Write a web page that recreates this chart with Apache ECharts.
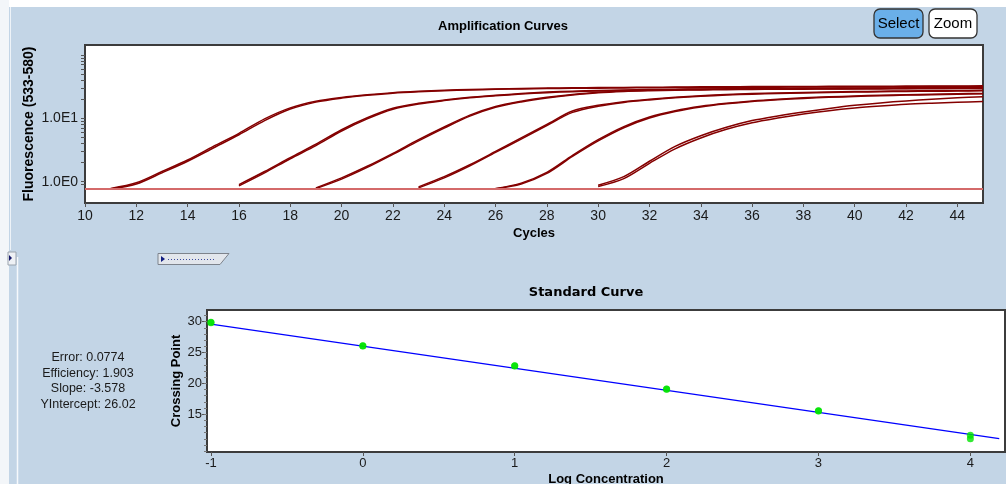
<!DOCTYPE html>
<html>
<head>
<meta charset="utf-8">
<title>Amplification Curves</title>
<script src="https://cdn.jsdelivr.net/npm/echarts@6.0.0/dist/echarts.min.js"></script>
<style>
  html, body { margin: 0; padding: 0; background: #c3d5e6; }
  #chart { width: 1006px; height: 484px; }
</style>
</head>
<body>
<div id="chart"></div>
<script>
// ---- amplification curves (fluorescence per cycle, 2 replicates per dilution) ----
const cycleTicks = [10, 12, 14, 16, 18, 20, 22, 24, 26, 28, 30, 32, 34, 36, 38, 40, 42, 44];
// first cycle of each curve, the values below run from there to cycle 45
const curveStart = [11, 11, 16, 16, 19, 19, 23, 23, 26, 26, 30, 30];
const g1a = [0.78, 0.96, 1.45, 2.2, 3.6, 5.8, 9.8, 14.6, 18.6, 21.3, 23.5, 25.4, 26.7, 27.7, 28.5, 29.1, 29.6, 30.0, 30.3, 30.5, 30.7, 30.9, 31.1, 31.3, 31.4, 31.6, 31.7, 31.8, 31.9, 32.0, 32.1, 32.2, 32.3, 32.4, 32.5];
const g1b = [0.77, 0.92, 1.38, 2.1, 3.4, 5.5, 9.2, 14.0, 18.0, 20.8, 23.0, 24.9, 26.2, 27.2, 28.0, 28.6, 29.1, 29.4, 29.7, 29.9, 30.1, 30.3, 30.5, 30.6, 30.8, 30.9, 31.0, 31.1, 31.2, 31.3, 31.4, 31.5, 31.6, 31.7, 31.8];
const g2a = [0.9, 1.45, 2.4, 3.9, 6.6, 10.2, 14.4, 17.2, 19.4, 21.4, 23.0, 24.6, 25.9, 26.8, 27.5, 28.0, 28.4, 28.7, 29.0, 29.2, 29.4, 29.6, 29.8, 29.9, 30.0, 30.1, 30.2, 30.3, 30.4, 30.5];
const g2b = [0.86, 1.38, 2.3, 3.7, 6.3, 9.8, 13.9, 16.8, 19.0, 21.0, 22.6, 24.1, 25.4, 26.3, 27.0, 27.5, 27.9, 28.2, 28.5, 28.7, 28.9, 29.1, 29.2, 29.3, 29.4, 29.5, 29.6, 29.7, 29.8, 29.9];
const g3a = [0.8, 1.15, 1.75, 2.8, 4.6, 7.3, 11.2, 15.4, 18.6, 21.4, 23.8, 25.8, 27.0, 27.7, 28.2, 28.5, 28.8, 29.0, 29.2, 29.4, 29.5, 29.6, 29.7, 29.8, 29.9, 30.0, 30.1];
const g3b = [0.78, 1.1, 1.68, 2.7, 4.4, 7.0, 10.8, 14.9, 18.1, 20.9, 23.3, 25.3, 26.5, 27.2, 27.7, 28.0, 28.3, 28.5, 28.7, 28.8, 28.9, 29.0, 29.1, 29.2, 29.3, 29.4, 29.5];
const g4a = [0.83, 1.2, 1.85, 3.0, 4.9, 8.0, 13.0, 16.0, 18.3, 20.0, 21.5, 22.7, 23.7, 24.5, 25.1, 25.6, 26.0, 26.4, 26.7, 27.0, 27.2, 27.4, 27.6];
const g4b = [0.8, 1.15, 1.78, 2.9, 4.7, 7.7, 12.4, 15.5, 17.8, 19.5, 21.0, 22.2, 23.2, 24.0, 24.6, 25.1, 25.5, 25.9, 26.2, 26.5, 26.7, 26.9, 27.1];
const g5a = [0.78, 0.95, 1.4, 2.6, 4.6, 7.4, 10.5, 13.2, 15.5, 17.3, 18.8, 20.0, 21.0, 21.8, 22.5, 23.1, 23.6, 24.0, 24.4, 24.7];
const g5b = [0.77, 0.92, 1.35, 2.5, 4.4, 7.1, 10.1, 12.8, 15.1, 16.9, 18.4, 19.6, 20.6, 21.4, 22.1, 22.7, 23.2, 23.6, 24.0, 24.3];
const g6a = [0.88, 1.2, 2.1, 3.6, 5.3, 7.2, 9.2, 10.9, 12.6, 14.3, 16.0, 17.5, 18.8, 20.0, 21.0, 21.9];
const g6b = [0.84, 1.12, 1.95, 3.3, 4.9, 6.7, 8.5, 10.1, 11.7, 13.2, 14.5, 15.6, 16.6, 17.3, 17.9, 18.4];
const baseline = 0.77;
const fluoTicks = [0.9, 1, 2, 3, 4, 5, 6, 7, 8, 9, 10, 20, 30, 40, 50, 60, 70, 80, 90, 100];
const fluoLabels = [1, 10];

// ---- standard curve ----
const logConc = [-1, -1, 0, 0, 1, 1, 2, 2, 3, 3, 4, 4];
const crossingPoint = [29.9, 29.85, 26.1, 26.05, 22.85, 22.8, 19.1, 19.05, 15.55, 15.5, 11.6, 11.0];
const concTicks = [-1, 0, 1, 2, 3, 4];
const cpLabels = [15, 20, 25, 30];
const cpMinorTicks = [9, 10, 11, 12, 13, 14, 15, 16, 17, 18, 19, 20, 21, 22, 23, 24, 25, 26, 27, 28, 29, 30, 31];
const slope = -3.578;
const yIntercept = 26.02;
const fitRange = [-1, 4.19];
const stats = ["Error: 0.0774", "Efficiency: 1.903", "Slope: -3.578", "YIntercept: 26.02"];

const sans = "'Liberation Sans', Arial, sans-serif";
const frame = "#3c3c3c";

let myChart = echarts.init(document.getElementById("chart"));

const ampCurves = [g1a, g1b, g2a, g2b, g3a, g3b, g4a, g4b, g5a, g5b, g6a, g6b];
const ampSeries = ampCurves.map((vals, k) => ({
  type: "line",
  xAxisIndex: 0,
  yAxisIndex: 0,
  data: vals.map((v, i) => [curveStart[k] + i, Math.log10(v)]),
  showSymbol: false,
  smooth: 0.3,
  silent: true,
  z: 3,
  lineStyle: { color: "#840000", width: 1.5 },
}));
// flat baseline every curve sits on before it rises
ampSeries[0].markLine = {
  silent: true,
  symbol: "none",
  label: { show: false },
  lineStyle: { color: "#d46a6a", width: 2, type: "solid" },
  data: [{ yAxis: Math.log10(baseline) }],
};

myChart.setOption({
  animation: false,
  backgroundColor: "#c3d5e6",
  title: [
    {
      text: "Amplification Curves",
      left: "center",
      top: 20,
      padding: 0,
      textStyle: { fontFamily: sans, fontSize: 13, fontWeight: "bold", color: "#000" },
    },
    {
      text: "Standard Curve",
      left: 586,
      textAlign: "center",
      top: 286,
      padding: 0,
      textStyle: { fontFamily: "'DejaVu Sans', sans-serif", fontSize: 13, fontWeight: "bold", color: "#000" },
    },
  ],
  grid: [
    {
      left: 85, top: 45, width: 898, height: 158,
      outerBoundsMode: "none",
      show: true, backgroundColor: "#fff", borderColor: frame, borderWidth: 2,
    },
    {
      left: 207, top: 310, width: 798, height: 142,
      outerBoundsMode: "none",
      show: true, backgroundColor: "#fff", borderColor: frame, borderWidth: 2,
    },
  ],
  xAxis: [
    {
      type: "value",
      gridIndex: 0,
      min: 10,
      max: 45,
      interval: 2,
      name: "Cycles",
      nameLocation: "middle",
      nameGap: 24,
      nameMoveOverlap: false,
      nameTextStyle: { fontFamily: sans, fontSize: 13, fontWeight: "bold", color: "#000" },
      axisLine: { show: true, onZero: false, lineStyle: { color: frame, width: 2 } },
      axisTick: { show: true, length: 4, customValues: cycleTicks, lineStyle: { color: "#555" } },
      axisLabel: { customValues: cycleTicks, margin: 6, fontFamily: sans, fontSize: 14, color: "#1a1a1a" },
      splitLine: { show: false },
    },
    {
      type: "value",
      gridIndex: 1,
      min: -1.026,
      max: 4.228,
      name: "Log Concentration",
      nameLocation: "middle",
      nameGap: 21,
      nameMoveOverlap: false,
      nameTextStyle: { fontFamily: sans, fontSize: 13, fontWeight: "bold", color: "#000" },
      axisLine: { show: true, onZero: false, lineStyle: { color: frame, width: 2 } },
      axisTick: { show: true, length: 4, customValues: concTicks, lineStyle: { color: "#555" } },
      axisLabel: { customValues: concTicks, margin: 5, fontFamily: sans, fontSize: 13, color: "#1a1a1a" },
      splitLine: { show: false },
    },
  ],
  yAxis: [
    {
      // log10 of fluorescence
      type: "value",
      gridIndex: 0,
      min: -0.336,
      max: 2.156,
      name: "Fluorescence (533-580)",
      nameLocation: "middle",
      nameGap: 49,
      nameMoveOverlap: false,
      nameTextStyle: { fontFamily: sans, fontSize: 14, fontWeight: "bold", color: "#000" },
      axisLine: { show: true, onZero: false, lineStyle: { color: frame, width: 2 } },
      axisTick: { show: true, length: 4, customValues: fluoTicks.map(Math.log10), lineStyle: { color: "#555" } },
      axisLabel: {
        customValues: fluoLabels.map(Math.log10),
        formatter: (v) => "1.0E" + Math.round(v),
        margin: 7,
        fontFamily: sans,
        fontSize: 14,
        color: "#1a1a1a",
      },
      splitLine: { show: false },
    },
    {
      type: "value",
      gridIndex: 1,
      position: "left",
      min: 8.87,
      max: 31.9,
      name: "Crossing Point",
      nameLocation: "middle",
      nameGap: 24,
      nameMoveOverlap: false,
      nameTextStyle: { fontFamily: sans, fontSize: 13, fontWeight: "bold", color: "#000" },
      axisLine: { show: true, onZero: false, lineStyle: { color: frame, width: 2 } },
      axisTick: { show: true, length: 5, customValues: cpLabels, lineStyle: { color: "#555" } },
      axisLabel: { customValues: cpLabels, margin: 5, fontFamily: sans, fontSize: 13, color: "#1a1a1a" },
      splitLine: { show: false },
    },
    {
      // minor ticks only
      type: "value",
      gridIndex: 1,
      position: "left",
      min: 8.87,
      max: 31.9,
      axisLine: { show: false, onZero: false },
      axisTick: { show: true, length: 3, customValues: cpMinorTicks, lineStyle: { color: "#777" } },
      axisLabel: { show: false },
      splitLine: { show: false },
    },
  ],
  series: [
    ...ampSeries,
    {
      name: "fit",
      type: "line",
      xAxisIndex: 1,
      yAxisIndex: 1,
      data: fitRange.map((x) => [x, yIntercept + slope * x]),
      showSymbol: false,
      silent: true,
      lineStyle: { color: "#0000ff", width: 1.3 },
      z: 3,
    },
    {
      name: "points",
      type: "scatter",
      xAxisIndex: 1,
      yAxisIndex: 1,
      data: logConc.map((x, i) => [x, crossingPoint[i]]),
      symbol: "circle",
      symbolSize: 7,
      silent: true,
      itemStyle: { color: "#00e400" },
      z: 4,
    },
  ],
  graphic: [
    { type: "rect", shape: { x: 0, y: 0, width: 1006, height: 7 }, style: { fill: "#ffffff" }, silent: true },
    { type: "rect", shape: { x: 0, y: 0, width: 9, height: 484 }, style: { fill: "#f3f6f9" }, silent: true },
    { type: "line", shape: { x1: 10.5, y1: 7, x2: 10.5, y2: 250 }, style: { stroke: "#eef3f8", lineWidth: 1 }, silent: true },
    { type: "line", shape: { x1: 17.5, y1: 257, x2: 17.5, y2: 484 }, style: { stroke: "#f6f9fc", lineWidth: 1.5 }, silent: true },
    // little arrow buttons
    { type: "rect", shape: { x: 8, y: 252, width: 8, height: 13 }, style: { fill: "#eef1f5", stroke: "#9aa3ad", lineWidth: 1 }, silent: true },
    { type: "polygon", shape: { points: [[9, 255], [12, 258], [9, 261]] }, style: { fill: "#14186a" }, silent: true },
    {
      type: "polygon",
      shape: { points: [[158, 253.5], [229, 253.5], [220, 264.5], [158, 264.5]] },
      style: { fill: "#e2e6ec", stroke: "#7d838c", lineWidth: 1 },
      silent: true,
    },
    { type: "polygon", shape: { points: [[161, 256], [165, 259], [161, 262]] }, style: { fill: "#101c80" }, silent: true },
    { type: "line", shape: { x1: 168, y1: 259.5, x2: 216, y2: 259.5 }, style: { stroke: "#3a4aa0", lineWidth: 1, lineDash: [1, 2] }, silent: true },
    // Select / Zoom buttons
    { type: "rect", shape: { x: 874, y: 9, width: 49, height: 29, r: 6 }, style: { fill: "#6aafe9", stroke: "#333", lineWidth: 1.3 }, silent: true },
    { type: "text", style: { text: "Select", x: 898.5, y: 24, align: "center", verticalAlign: "middle", font: "15px " + sans, fill: "#000" }, silent: true },
    { type: "rect", shape: { x: 929, y: 9, width: 48, height: 29, r: 6 }, style: { fill: "#ffffff", stroke: "#333", lineWidth: 1.3 }, silent: true },
    { type: "text", style: { text: "Zoom", x: 953, y: 24, align: "center", verticalAlign: "middle", font: "15px " + sans, fill: "#000" }, silent: true },
    // regression statistics
    {
      type: "text",
      style: {
        text: stats.join("\n"),
        x: 88,
        y: 381,
        align: "center",
        verticalAlign: "middle",
        lineHeight: 15.7,
        font: "12.5px " + sans,
        fill: "#1a1a1a",
      },
      silent: true,
    },
  ],
});
</script>
</body>
</html>
